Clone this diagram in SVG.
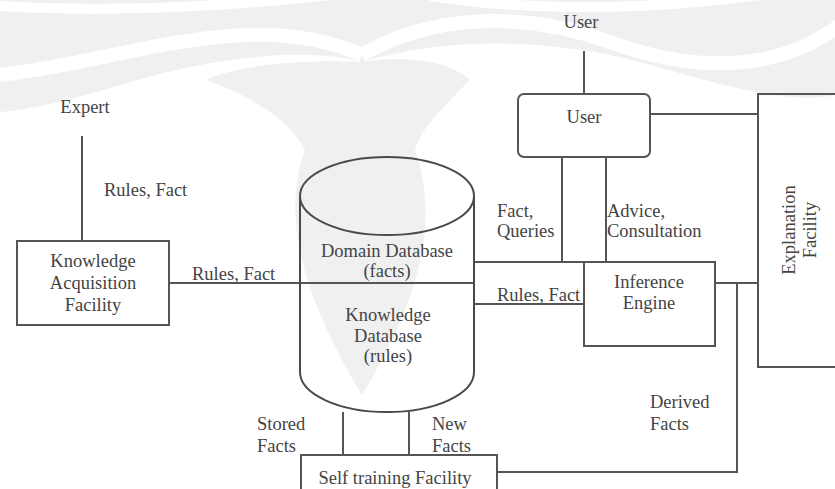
<svg xmlns="http://www.w3.org/2000/svg" width="835" height="489" viewBox="0 0 835 489">
  <style>
    .bg { fill: #f0f0f0; stroke: none; }
    .gap { fill: none; stroke: #ffffff; }
    .box { fill: none; stroke: #555555; stroke-width: 2; }
    .cyl { fill: none; stroke: #4a4a4a; stroke-width: 2; }
    .conn line, .conn polyline { fill: none; stroke: #555555; stroke-width: 2; }
    text { font-family: "Liberation Serif", "Times New Roman", serif; font-size: 18.5px; fill: #444444; }
    .c { text-anchor: middle; }
  </style>
  <rect width="835" height="489" fill="#ffffff"/>

  <!-- faint background watermark -->
  <g id="watermark">
    <path class="bg" d="M0,0 H835 V95 C790,105 720,85 640,62 C560,40 450,35 362,62 C300,45 200,60 120,85 C70,100 30,110 0,112 Z"/>
    <path class="bg" d="M205,80 C250,60 330,60 362,62 C400,55 450,60 470,80 C440,110 420,130 415,150 C440,220 420,300 362,395 C305,300 280,220 305,150 C290,120 250,95 205,80 Z"/>
    <path class="gap" stroke-width="14" d="M0,75 C120,62 250,5 362,55"/>
    <path class="gap" stroke-width="14" d="M362,55 C430,15 520,10 610,42 C700,75 780,70 840,25"/>
    <path class="gap" stroke-width="10" d="M0,6 C100,12 220,8 330,-5"/>
    <path class="gap" stroke-width="10" d="M430,-4 C520,10 640,12 760,-5"/>
  </g>

  <g id="connectors" class="conn">
    <line x1="584" y1="51" x2="584" y2="94"/>
    <line x1="82" y1="136" x2="82" y2="241"/>
    <line x1="169" y1="283" x2="474" y2="283"/>
    <line x1="650" y1="114" x2="758" y2="114"/>
    <line x1="562" y1="157" x2="562" y2="262"/>
    <line x1="606" y1="157" x2="606" y2="262"/>
    <line x1="474" y1="262" x2="584" y2="262"/>
    <line x1="474" y1="304" x2="584" y2="304"/>
    <line x1="715" y1="283" x2="758" y2="283"/>
    <polyline points="737,283 737,472 497,472"/>
    <line x1="343" y1="412" x2="343" y2="455"/>
    <line x1="409" y1="412" x2="409" y2="455"/>
  </g>

  <g id="label-user-top"><text class="c" x="581" y="28">User</text></g>
  <g id="label-expert"><text class="c" x="85" y="113">Expert</text></g>
  <g id="labels">
    <text x="104" y="196">Rules, Fact</text>
    <text x="192" y="280">Rules, Fact</text>
    <text x="497" y="217">Fact,</text>
    <text x="497" y="237">Queries</text>
    <text x="607" y="217">Advice,</text>
    <text x="607" y="237">Consultation</text>
    <text x="497" y="301">Rules, Fact</text>
    <text x="257" y="430">Stored</text>
    <text x="257" y="452">Facts</text>
    <text x="432" y="430">New</text>
    <text x="432" y="452">Facts</text>
    <text x="650" y="408">Derived</text>
    <text x="650" y="430">Facts</text>
  </g>

  <g id="user">
    <rect class="box" x="518" y="94" width="132" height="63" rx="6"/>
    <text class="c" x="584" y="123">User</text>
  </g>

  <g id="knowledge-acquisition">
    <rect class="box" x="17" y="241" width="152" height="84"/>
    <text class="c" x="93" y="267">Knowledge</text>
    <text class="c" x="93" y="289">Acquisition</text>
    <text class="c" x="93" y="311">Facility</text>
  </g>

  <g id="database">
    <ellipse class="cyl" cx="387" cy="196" rx="87" ry="39"/>
    <line class="cyl" x1="300" y1="196" x2="300" y2="372"/>
    <line class="cyl" x1="474" y1="196" x2="474" y2="372"/>
    <path class="cyl" d="M300,372 A87,40 0 0 0 474,372" stroke-width="2.4" stroke="#333333"/>
    <text class="c" x="387" y="257">Domain Database</text>
    <text class="c" x="387" y="277">(facts)</text>
    <text class="c" x="388" y="321">Knowledge</text>
    <text class="c" x="388" y="342">Database</text>
    <text class="c" x="388" y="362">(rules)</text>
  </g>

  <g id="inference-engine">
    <rect class="box" x="584" y="262" width="131" height="84"/>
    <text class="c" x="649" y="288">Inference</text>
    <text class="c" x="649" y="309">Engine</text>
  </g>

  <g id="explanation-facility">
    <rect class="box" x="758" y="94" width="90" height="273"/>
    <text class="c" transform="translate(795,230) rotate(-90)">Explanation</text>
    <text class="c" transform="translate(816,230) rotate(-90)">Facility</text>
  </g>

  <g id="self-training">
    <rect class="box" x="301" y="455" width="196" height="50"/>
    <text class="c" x="395" y="484">Self training Facility</text>
  </g>
</svg>
